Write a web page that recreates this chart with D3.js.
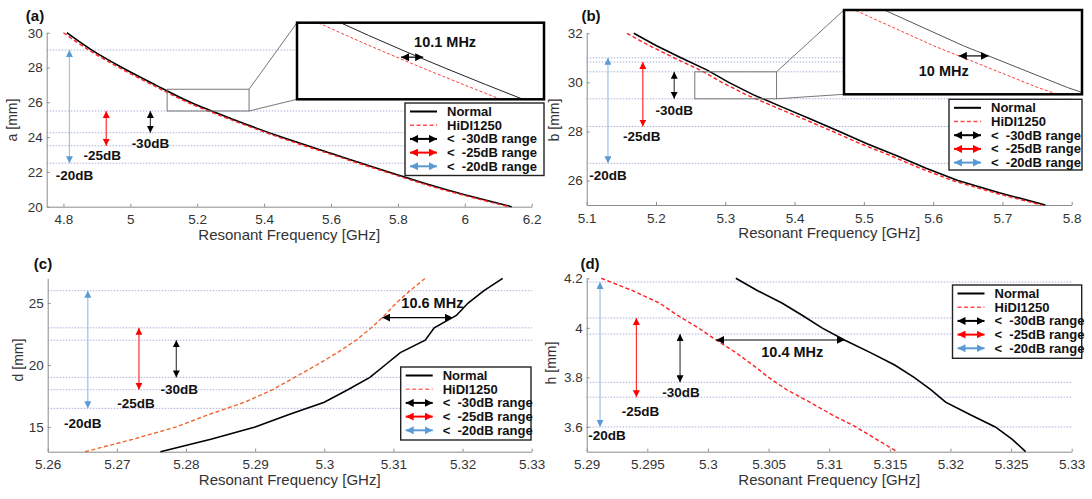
<!DOCTYPE html>
<html>
<head>
<meta charset="utf-8">
<script src="https://cdn.jsdelivr.net/npm/d3@7"></script>
<style>
  body { margin: 0; background: #fff; }
</style>
</head>
<body>
<svg id="chart" width="1092" height="499"></svg>
<script>
// ---- panel (a) ----
const aDims = [30, 29, 28, 27, 26, 25, 24, 23, 22, 21, 20];
const aNormalFreq = [4.81, 4.885, 4.975, 5.075, 5.18, 5.31, 5.452, 5.611, 5.772, 5.94, 6.14];
const aHidiFreq = [4.8, 4.876, 4.966, 5.066, 5.171, 5.301, 5.443, 5.602, 5.763, 5.931, 6.131];
const aXTicks = [4.8, 5, 5.2, 5.4, 5.6, 5.8, 6, 6.2];
const aYTicks = [20, 22, 24, 26, 28, 30];
const aGuides = [29, 25.5, 24.25, 23.5, 22.5];
const aRangeX = [5.06, 4.928, 4.818];      // -30, -25, -20 dB
const aRangeLo = [24.25, 23.5, 22.5];
const aRangeHi = [25.5, 25.5, 29];
const aZoomBox = [5.11, 5.355, 25.5, 26.75];
const aInsetX = [5.151, 5.251];
const aInsetY = [25.5, 26.1];
const aGapDim = 25.83;

// ---- panel (b) ----
const bDims = [32, 31.5, 31, 30.5, 30, 29.5, 29, 28.5, 28, 27.5, 27, 26.5, 26, 25.5, 25];
const bNormalFreq = [5.168, 5.2, 5.236, 5.274, 5.305, 5.34, 5.3816, 5.4238, 5.4647, 5.5046, 5.5485, 5.5898, 5.6357, 5.6954, 5.762];
const bHidiFreq = [5.158, 5.19, 5.226, 5.264, 5.295, 5.33, 5.3715, 5.4135, 5.455, 5.495, 5.5395, 5.581, 5.628, 5.688, 5.756];
const bXTicks = [5.1, 5.2, 5.3, 5.4, 5.5, 5.6, 5.7, 5.8];
const bYTicks = [26, 28, 30, 32];
const bGuides = [31, 30.83, 30.43, 29.33, 28.2, 26.7];
const bRangeX = [5.2263, 5.181, 5.1307];
const bRangeLo = [29.33, 28.2, 26.7];
const bRangeHi = [30.43, 30.83, 31];
const bZoomBox = [5.256, 5.374, 29.33, 30.43];
const bInsetX = [5.2648, 5.3448];
const bInsetY = [29.42, 30.43];
const bGapDim = 29.88;

// ---- panel (c) ----
const cDims = [13, 14, 15, 16, 17, 18, 19, 20, 21, 22, 23, 24, 25, 26, 27];
const cNormalFreq = [5.2763, 5.2836, 5.29, 5.2949, 5.3, 5.3034, 5.3066, 5.3088, 5.311, 5.3146, 5.3159, 5.3191, 5.3208, 5.3231, 5.3258];
const cHidiFreq = [5.2654, 5.2723, 5.2786, 5.2833, 5.2885, 5.2925, 5.2957, 5.2989, 5.3019, 5.3046, 5.3068, 5.3087, 5.3104, 5.3124, 5.3146];
const cXTicks = [5.26, 5.27, 5.28, 5.29, 5.3, 5.31, 5.32, 5.33];
const cYTicks = [15, 20, 25];
const cGuides = [26, 23, 22, 19, 18, 16.5];
const cRangeX = [5.2786, 5.2732, 5.2658];
const cRangeLo = [19, 18, 16.5];
const cRangeHi = [22, 23, 26];
const cGapDim = 23.83;

// ---- panel (d) ----
const dDims = [4.2, 4.15, 4.1, 4.05, 4.0, 3.95, 3.9, 3.85, 3.8, 3.75, 3.7, 3.65, 3.6, 3.55, 3.5];
const dNormalFreq = [5.3023, 5.3041, 5.3061, 5.3078, 5.3094, 5.3113, 5.3134, 5.3154, 5.317, 5.3184, 5.3196, 5.3216, 5.3237, 5.3251, 5.3262];
const dHidiFreq = [5.2912, 5.2938, 5.296, 5.2975, 5.2992, 5.3007, 5.3023, 5.3037, 5.305, 5.3065, 5.3084, 5.3102, 5.3122, 5.3139, 5.3156];
const dXTicks = [5.29, 5.295, 5.3, 5.305, 5.31, 5.315, 5.32, 5.325, 5.33];
const dYTicks = [3.6, 3.8, 4, 4.2];
const dGuides = [4.185, 4.04, 3.975, 3.78, 3.72, 3.6];
const dRangeX = [5.2977, 5.2941, 5.2911];
const dRangeLo = [3.78, 3.72, 3.6];
const dRangeHi = [3.975, 4.04, 4.185];
const dGapDim = 3.951;

const rangeLabels = ["-30dB", "-25dB", "-20dB"];
const legendLabels = ["Normal", "HiDI1250", "<  -30dB range", "<  -25dB range", "<  -20dB range"];

const FONT = '"Liberation Sans", Arial, sans-serif';
const headColors = ["#000000", "#ff0000", "#5b9bd5"];
const shaftColors = ["#444444", "#ff3030", "#9cc2e5"];

const svg = d3.select("#chart");
const defs = svg.append("defs");

function addMarker(id, color, size) {
  defs.append("marker")
    .attr("id", id)
    .attr("viewBox", "0 0 10 10")
    .attr("refX", 10)
    .attr("refY", 5)
    .attr("markerWidth", size)
    .attr("markerHeight", size)
    .attr("markerUnits", "userSpaceOnUse")
    .attr("orient", "auto-start-reverse")
    .append("path")
    .attr("d", "M0,0L10,5L0,10Z")
    .attr("fill", color);
}
headColors.forEach((c, i) => {
  addMarker("head" + i, c, 7);
  addMarker("lhead" + i, c, 8);
});

const fmt = (d) => String(+d.toFixed(4));

function arrow(g, x1, y1, x2, y2, i, width, prefix) {
  g.append("line")
    .attr("x1", x1).attr("y1", y1)
    .attr("x2", x2).attr("y2", y2)
    .attr("stroke", prefix === "lhead" ? headColors[i] : shaftColors[i])
    .attr("stroke-width", width)
    .attr("marker-start", `url(#${prefix}${i})`)
    .attr("marker-end", `url(#${prefix}${i})`);
}

function drawLegend(g, box, hidiColor) {
  const [lx, ly, lw, lh] = box;
  g.append("rect")
    .attr("x", lx).attr("y", ly).attr("width", lw).attr("height", lh)
    .attr("fill", "#fff").attr("stroke", "#222").attr("stroke-width", 1.4);
  legendLabels.forEach((t, i) => {
    const yy = ly + 8.5 + i * 13.7;
    if (i === 0) {
      g.append("line").attr("x1", lx + 5).attr("x2", lx + 32).attr("y1", yy).attr("y2", yy)
        .attr("stroke", "#000").attr("stroke-width", 2);
    } else if (i === 1) {
      g.append("line").attr("x1", lx + 5).attr("x2", lx + 32).attr("y1", yy).attr("y2", yy)
        .attr("stroke", hidiColor).attr("stroke-width", 1.6).attr("stroke-dasharray", "4,2.5");
    } else {
      arrow(g, lx + 5, yy, lx + 32, yy, i - 2, 2, "lhead");
    }
    g.append("text")
      .attr("x", lx + 42).attr("y", yy).attr("dy", "0.35em")
      .attr("font-family", FONT).attr("font-size", 13).attr("font-weight", "bold")
      .attr("fill", "#111")
      .style("white-space", "pre")
      .text(t);
  });
}

function drawPanel(p) {
  const g = svg.append("g");
  const x = d3.scaleLinear().domain(p.xDomain).range(p.xRange);
  const y = d3.scaleLinear().domain(p.yDomain).range(p.yRange);

  // dotted guide lines
  g.selectAll(null).data(p.guides).join("line")
    .attr("x1", p.xRange[0]).attr("x2", p.xRange[1])
    .attr("y1", (d) => y(d)).attr("y2", (d) => y(d))
    .attr("stroke", "#aab0da").attr("stroke-width", 1)
    .attr("stroke-dasharray", "1.5,1.5");

  // axes
  const gx = g.append("g")
    .attr("transform", `translate(0,${p.yRange[0]})`)
    .call(d3.axisBottom(x).tickValues(p.xTicks).tickFormat(fmt)
      .tickSizeInner(-3).tickSizeOuter(0).tickPadding(8));
  const gy = g.append("g")
    .attr("transform", `translate(${p.xRange[0]},0)`)
    .call(d3.axisLeft(y).tickValues(p.yTicks).tickFormat(fmt)
      .tickSizeInner(-3).tickSizeOuter(0).tickPadding(4));
  [gx, gy].forEach((a) => {
    a.attr("font-family", FONT).attr("font-size", 13.5);
    a.select(".domain").attr("stroke", "#8c8c8c");
    a.selectAll(".tick line").attr("stroke", "#8c8c8c");
    a.selectAll(".tick text").attr("fill", "#333");
  });

  g.append("text")
    .attr("x", (p.xRange[0] + p.xRange[1]) / 2).attr("y", p.yRange[0] + 33)
    .attr("text-anchor", "middle")
    .attr("font-family", FONT).attr("font-size", 15).attr("fill", "#333")
    .text("Resonant Frequency [GHz]");
  g.append("text")
    .attr("transform", `translate(${p.yTitlePos[0]},${p.yTitlePos[1]}) rotate(-90)`)
    .attr("text-anchor", "middle").attr("dy", "0.35em")
    .attr("font-family", FONT).attr("font-size", 14).attr("fill", "#333")
    .text(p.yTitle);

  // curves
  const line = d3.line().x((d) => x(d[0])).y((d) => y(d[1])).curve(p.curve);
  const normal = d3.zip(p.normal, p.dims);
  const hidi = d3.zip(p.hidi, p.dims);
  g.append("path").attr("d", line(normal))
    .attr("fill", "none").attr("stroke", "#000").attr("stroke-width", 1.6);
  g.append("path").attr("d", line(hidi))
    .attr("fill", "none").attr("stroke", p.hidiColor).attr("stroke-width", 1.4)
    .attr("stroke-dasharray", "4,2.5");

  // dB range arrows
  p.rangeX.forEach((fx, i) => {
    arrow(g, x(fx), y(p.rangeLo[i]), x(fx), y(p.rangeHi[i]), i, 1.2, "head");
    g.append("text")
      .attr("x", x(fx) + p.labelOffsets[i][0])
      .attr("y", y(p.rangeLo[i]) + p.labelOffsets[i][1])
      .attr("dy", "0.35em").attr("text-anchor", "middle")
      .attr("font-family", FONT).attr("font-size", 13.5).attr("font-weight", "bold")
      .attr("fill", "#111")
      .text(rangeLabels[i]);
  });

  // frequency gap between the two series
  const atDim = (freqs) => d3.scaleLinear().domain(p.dims).range(freqs)(p.gapDim);
  function gapArrow(gg, sx, sy) {
    const x1 = sx(atDim(p.hidi));
    const x2 = sx(atDim(p.normal));
    const yy = sy(p.gapDim);
    arrow(gg, x1, yy, x2, yy, 0, 1.2, "lhead");
    gg.append("text")
      .attr("x", (x1 + x2) / 2 + p.gapLabelOffset[0])
      .attr("y", yy + p.gapLabelOffset[1])
      .attr("dy", "0.35em").attr("text-anchor", "middle")
      .attr("font-family", FONT).attr("font-size", 14.5).attr("font-weight", "bold")
      .attr("fill", "#111")
      .text(p.gapLabel);
  }

  if (p.zoomBox) {
    const [zx0, zx1, zy0, zy1] = p.zoomBox;
    const [bx, by, bw, bh] = p.insetBox;
    g.append("rect")
      .attr("x", x(zx0)).attr("y", y(zy1))
      .attr("width", x(zx1) - x(zx0)).attr("height", y(zy0) - y(zy1))
      .attr("fill", "none").attr("stroke", "#777").attr("stroke-width", 1);
    g.append("line").attr("x1", x(zx1)).attr("y1", y(zy1)).attr("x2", bx).attr("y2", by)
      .attr("stroke", "#777");
    g.append("line").attr("x1", x(zx1)).attr("y1", y(zy0)).attr("x2", bx).attr("y2", by + bh)
      .attr("stroke", "#777");

    const ix = d3.scaleLinear().domain(p.insetX).range([bx, bx + bw]);
    const iy = d3.scaleLinear().domain(p.insetY).range([by + bh, by]);
    const clipId = "clip-" + p.id;
    defs.append("clipPath").attr("id", clipId)
      .append("rect").attr("x", bx).attr("y", by).attr("width", bw).attr("height", bh);
    g.append("rect").attr("x", bx).attr("y", by).attr("width", bw).attr("height", bh)
      .attr("fill", "#fff");
    const ig = g.append("g").attr("clip-path", `url(#${clipId})`);
    const iline = d3.line().x((d) => ix(d[0])).y((d) => iy(d[1])).curve(p.curve);
    ig.append("path").attr("d", iline(normal))
      .attr("fill", "none").attr("stroke", p.insetNormalColor).attr("stroke-width", 1);
    ig.append("path").attr("d", iline(hidi))
      .attr("fill", "none").attr("stroke", "#ff3b3b").attr("stroke-width", 1)
      .attr("stroke-dasharray", "3,2");
    gapArrow(g, ix, iy);
    g.append("rect").attr("x", bx).attr("y", by).attr("width", bw).attr("height", bh)
      .attr("fill", "none").attr("stroke", "#000").attr("stroke-width", 2.5);
  } else {
    gapArrow(g, x, y);
  }

  drawLegend(g, p.legendBox, p.legendHidiColor);

  g.append("text")
    .attr("x", p.labelPos[0]).attr("y", p.labelPos[1])
    .attr("dy", "0.35em").attr("text-anchor", "middle")
    .attr("font-family", FONT).attr("font-size", 15).attr("font-weight", "bold")
    .attr("fill", "#111")
    .text(p.label);
}

drawPanel({
  id: "a", label: "(a)", labelPos: [35, 16], yTitle: "a [mm]", yTitlePos: [12, 120],
  xDomain: [4.75, 6.2], xRange: [46.7, 531.7], yDomain: [20, 30], yRange: [206.7, 32.7],
  xTicks: aXTicks, yTicks: aYTicks,
  dims: aDims, normal: aNormalFreq, hidi: aHidiFreq, curve: d3.curveCatmullRom,
  hidiColor: "#ff2020", legendHidiColor: "#ff4d4d", insetNormalColor: "#222",
  guides: aGuides, rangeX: aRangeX, rangeLo: aRangeLo, rangeHi: aRangeHi,
  labelOffsets: [[0, 11], [-4, 9.5], [5, 12]],
  zoomBox: aZoomBox, insetBox: [297, 22.7, 247, 76.6], insetX: aInsetX, insetY: aInsetY,
  gapDim: aGapDim, gapLabel: "10.1 MHz", gapLabelOffset: [33, -15],
  legendBox: [405, 103, 139, 72.5]
});

drawPanel({
  id: "b", label: "(b)", labelPos: [591, 16], yTitle: "b [mm]", yTitlePos: [554, 120],
  xDomain: [5.1, 5.8], xRange: [586.7, 1071.7], yDomain: [25, 32], yRange: [205, 33.3],
  xTicks: bXTicks, yTicks: bYTicks,
  dims: bDims, normal: bNormalFreq, hidi: bHidiFreq, curve: d3.curveLinear,
  hidiColor: "#ff2020", legendHidiColor: "#ff4d4d", insetNormalColor: "#555",
  guides: bGuides, rangeX: bRangeX, rangeLo: bRangeLo, rangeHi: bRangeHi,
  labelOffsets: [[0, 11], [-1, 10], [0, 12]],
  zoomBox: bZoomBox, insetBox: [844, 10, 238, 84.3], insetX: bInsetX, insetY: bInsetY,
  gapDim: bGapDim, gapLabel: "10 MHz", gapLabelOffset: [-30, 15],
  legendBox: [949, 99.3, 133, 70.7]
});

drawPanel({
  id: "c", label: "(c)", labelPos: [43, 264], yTitle: "d [mm]", yTitlePos: [18, 360],
  xDomain: [5.26, 5.33], xRange: [47.7, 531.7], yDomain: [13, 27], yRange: [451.7, 278.3],
  xTicks: cXTicks, yTicks: cYTicks,
  dims: cDims, normal: cNormalFreq, hidi: cHidiFreq, curve: d3.curveLinear,
  hidiColor: "#f0652f", legendHidiColor: "#ff6f6f",
  guides: cGuides, rangeX: cRangeX, rangeLo: cRangeLo, rangeHi: cRangeHi,
  labelOffsets: [[3, 12], [-3, 14], [-5, 15]],
  gapDim: cGapDim, gapLabel: "10.6 MHz", gapLabelOffset: [15, -15],
  legendBox: [400.7, 367, 130.3, 73]
});

drawPanel({
  id: "d", label: "(d)", labelPos: [590, 264], yTitle: "h [mm]", yTitlePos: [551, 363],
  xDomain: [5.29, 5.33], xRange: [586.7, 1071.7], yDomain: [3.5, 4.2], yRange: [451.7, 278.3],
  xTicks: dXTicks, yTicks: dYTicks,
  dims: dDims, normal: dNormalFreq, hidi: dHidiFreq, curve: d3.curveLinear,
  hidiColor: "#ff2020", legendHidiColor: "#ff4d4d",
  guides: dGuides, rangeX: dRangeX, rangeLo: dRangeLo, rangeHi: dRangeHi,
  labelOffsets: [[1, 10], [4, 14], [7, 8]],
  gapDim: dGapDim, gapLabel: "10.4 MHz", gapLabelOffset: [12, 12],
  legendBox: [952.5, 285, 129.2, 73.3]
});
</script>
</body>
</html>
